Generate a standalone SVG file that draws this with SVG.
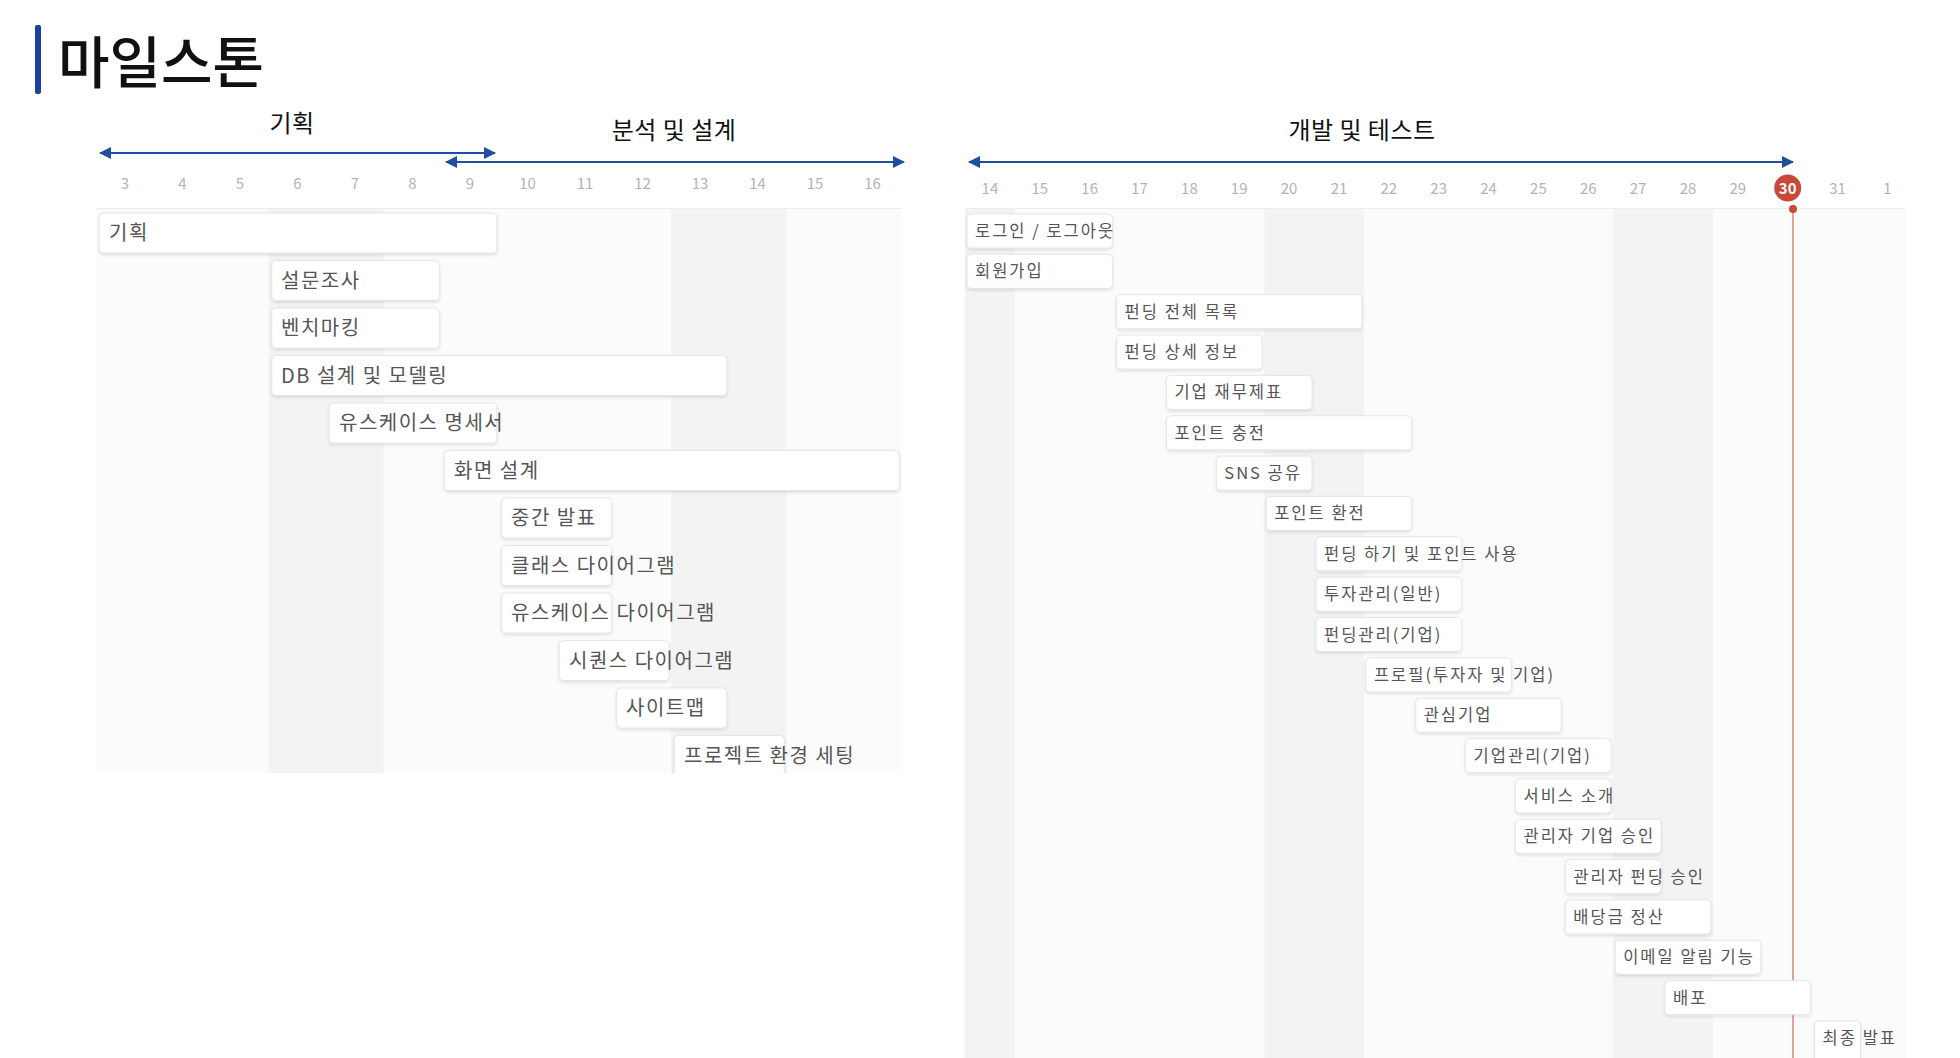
<svg xmlns="http://www.w3.org/2000/svg" width="1960" height="1058" viewBox="0 0 1960 1058">
<defs>
<style>
.title{font-family:"Noto Sans CJK KR","Noto Sans",sans-serif;font-size:56px;font-weight:500;fill:#111}
.phase{font-family:"Noto Sans CJK KR","Noto Sans",sans-serif;font-size:24px;letter-spacing:0.5px;fill:#111;text-anchor:middle}
.tick{font-family:"Noto Sans CJK KR","Noto Sans",sans-serif;font-size:15px;fill:#b3b3b3;text-anchor:middle}
.bg{fill:#fbfbfb}
.we{fill:#f3f3f3}
.bar{fill:#ffffff;stroke:#e6e6e6;stroke-width:1;filter:url(#sh)}
.lt{font-family:"Noto Sans CJK KR","Noto Sans",sans-serif;font-size:20px;letter-spacing:1.5px;fill:#555}
.rt{font-family:"Noto Sans CJK KR","Noto Sans",sans-serif;font-size:16.5px;letter-spacing:2px;fill:#555}
.arrow{stroke:#1f4e9f;stroke-width:2.2;fill:none;marker-start:url(#ah);marker-end:url(#ah)}
</style>
<marker id="ah" viewBox="0 0 12 12" refX="11" refY="6" markerWidth="12" markerHeight="12" markerUnits="userSpaceOnUse" orient="auto-start-reverse">
<path d="M0,0 L12,6 L0,12 z" fill="#1f4e9f"/>
</marker>
<filter id="sh" x="-10%" y="-20%" width="120%" height="150%">
<feDropShadow dx="0" dy="1.5" stdDeviation="1.5" flood-color="#000" flood-opacity="0.12"/>
</filter>
<clipPath id="clipL"><rect x="90" y="205" width="820" height="568"/></clipPath>
</defs>

<rect width="1960" height="1058" fill="#ffffff"/>

<g id="title">
<rect x="35" y="25" width="6" height="69" rx="2" fill="#1b3f9c"/>
<text class="title" x="58" y="83">마일스톤</text>
</g>

<g id="phase-labels">
<text class="phase" x="292" y="132">기획</text>
<text class="phase" x="674" y="139">분석 및 설계</text>
<text class="phase" x="1362" y="139">개발 및 테스트</text>
</g>

<g id="connectors">
<line class="arrow" x1="100" y1="153" x2="495" y2="153"/>
<line class="arrow" x1="446" y1="162" x2="904" y2="162"/>
<line class="arrow" x1="969" y1="162" x2="1793" y2="162"/>
</g>

<g id="left-chart">
<rect class="bg" x="96.25" y="209" width="805" height="564"/>
<rect class="we" x="268.75" y="209" width="115" height="564"/>
<rect class="we" x="671.25" y="209" width="115" height="564"/>
<line x1="96.25" y1="208.5" x2="901.25" y2="208.5" stroke="#ececec" stroke-width="1"/>
<g id="left-ticks">
<text class="tick" x="125" y="189">3</text>
<text class="tick" x="182.5" y="189">4</text>
<text class="tick" x="240" y="189">5</text>
<text class="tick" x="297.5" y="189">6</text>
<text class="tick" x="355" y="189">7</text>
<text class="tick" x="412.5" y="189">8</text>
<text class="tick" x="470" y="189">9</text>
<text class="tick" x="527.5" y="189">10</text>
<text class="tick" x="585" y="189">11</text>
<text class="tick" x="642.5" y="189">12</text>
<text class="tick" x="700" y="189">13</text>
<text class="tick" x="757.5" y="189">14</text>
<text class="tick" x="815" y="189">15</text>
<text class="tick" x="872.5" y="189">16</text>
</g>
<g clip-path="url(#clipL)">
<g id="task-l01"><rect class="bar" x="99.25" y="213" width="397.5" height="40" rx="4"/><text class="lt" x="109" y="240">기획</text></g>
<g id="task-l02"><rect class="bar" x="271.75" y="260.5" width="167.5" height="40" rx="4"/><text class="lt" x="281" y="287.5">설문조사</text></g>
<g id="task-l03"><rect class="bar" x="271.75" y="308" width="167.5" height="40" rx="4"/><text class="lt" x="281" y="335">벤치마킹</text></g>
<g id="task-l04"><rect class="bar" x="271.75" y="355.5" width="455" height="40" rx="4"/><text class="lt" x="281" y="382.5">DB 설계 및 모델링</text></g>
<g id="task-l05"><rect class="bar" x="329.25" y="403" width="167.5" height="40" rx="4"/><text class="lt" x="339" y="430">유스케이스 명세서</text></g>
<g id="task-l06"><rect class="bar" x="444.25" y="450.5" width="455" height="40" rx="4"/><text class="lt" x="454" y="477.5">화면 설계</text></g>
<g id="task-l07"><rect class="bar" x="501.75" y="498" width="110" height="40" rx="4"/><text class="lt" x="511" y="525">중간 발표</text></g>
<g id="task-l08"><rect class="bar" x="501.75" y="545.5" width="110" height="40" rx="4"/><text class="lt" x="511" y="572.5">클래스 다이어그램</text></g>
<g id="task-l09"><rect class="bar" x="501.75" y="593" width="110" height="40" rx="4"/><text class="lt" x="511" y="620">유스케이스 다이어그램</text></g>
<g id="task-l10"><rect class="bar" x="559.25" y="640.5" width="110" height="40" rx="4"/><text class="lt" x="569" y="667.5">시퀀스 다이어그램</text></g>
<g id="task-l11"><rect class="bar" x="616.75" y="688" width="110" height="40" rx="4"/><text class="lt" x="626" y="715">사이트맵</text></g>
<g id="task-l12"><rect class="bar" x="674.25" y="735.5" width="110" height="48" rx="4"/><text class="lt" x="684" y="762.5">프로젝트 환경 세팅</text></g>
</g>
</g>

<g id="right-chart">
<rect class="bg" x="965" y="209" width="941" height="849"/>
<rect class="we" x="965" y="209" width="49.86" height="849"/>
<rect class="we" x="1264.16" y="209" width="99.72" height="849"/>
<rect class="we" x="1613.18" y="209" width="99.72" height="849"/>
<line x1="965" y1="208.5" x2="1906" y2="208.5" stroke="#ececec" stroke-width="1"/>
<g id="right-ticks">
<text class="tick" x="989.9" y="194">14</text>
<text class="tick" x="1039.8" y="194">15</text>
<text class="tick" x="1089.7" y="194">16</text>
<text class="tick" x="1139.5" y="194">17</text>
<text class="tick" x="1189.4" y="194">18</text>
<text class="tick" x="1239.2" y="194">19</text>
<text class="tick" x="1289.1" y="194">20</text>
<text class="tick" x="1339" y="194">21</text>
<text class="tick" x="1388.8" y="194">22</text>
<text class="tick" x="1438.7" y="194">23</text>
<text class="tick" x="1488.5" y="194">24</text>
<text class="tick" x="1538.4" y="194">25</text>
<text class="tick" x="1588.3" y="194">26</text>
<text class="tick" x="1638.1" y="194">27</text>
<text class="tick" x="1688" y="194">28</text>
<text class="tick" x="1737.8" y="194">29</text>
<text class="tick" x="1837.6" y="194">31</text>
<text class="tick" x="1887.4" y="194">1</text>
</g>
<g id="today-marker">
<line x1="1793" y1="209" x2="1793" y2="1058" stroke="#e2a39c" stroke-width="2"/>
<circle cx="1793" cy="209" r="4" fill="#c9483a"/>
<circle cx="1787.7" cy="188" r="13.5" fill="#c9483a"/>
<text x="1787.7" y="194" font-family="Noto Sans CJK KR, Noto Sans, sans-serif" font-size="15" font-weight="700" fill="#ffffff" text-anchor="middle">30</text>
</g>
<g id="task-r01"><rect class="bar" x="967" y="214" width="145.58" height="34" rx="4"/><text class="rt" x="975" y="237">로그인 / 로그아웃</text></g>
<g id="task-r02"><rect class="bar" x="967" y="254.35" width="145.58" height="34" rx="4"/><text class="rt" x="975" y="277.35">회원가입</text></g>
<g id="task-r03"><rect class="bar" x="1116.58" y="294.7" width="245.3" height="34" rx="4"/><text class="rt" x="1124.6" y="317.7">펀딩 전체 목록</text></g>
<g id="task-r04"><rect class="bar" x="1116.58" y="335.05" width="145.58" height="34" rx="4"/><text class="rt" x="1124.6" y="358.05">펀딩 상세 정보</text></g>
<g id="task-r05"><rect class="bar" x="1166.44" y="375.4" width="145.58" height="34" rx="4"/><text class="rt" x="1174.4" y="398.4">기업 재무제표</text></g>
<g id="task-r06"><rect class="bar" x="1166.44" y="415.75" width="245.3" height="34" rx="4"/><text class="rt" x="1174.4" y="438.75">포인트 충전</text></g>
<g id="task-r07"><rect class="bar" x="1216.3" y="456.1" width="95.72" height="34" rx="4"/><text class="rt" x="1224.3" y="479.1">SNS 공유</text></g>
<g id="task-r08"><rect class="bar" x="1266.16" y="496.45" width="145.58" height="34" rx="4"/><text class="rt" x="1274.2" y="519.45">포인트 환전</text></g>
<g id="task-r09"><rect class="bar" x="1316.02" y="536.8" width="145.58" height="34" rx="4"/><text class="rt" x="1324" y="559.8">펀딩 하기 및 포인트 사용</text></g>
<g id="task-r10"><rect class="bar" x="1316.02" y="577.15" width="145.58" height="34" rx="4"/><text class="rt" x="1324" y="600.15">투자관리(일반)</text></g>
<g id="task-r11"><rect class="bar" x="1316.02" y="617.5" width="145.58" height="34" rx="4"/><text class="rt" x="1324" y="640.5">펀딩관리(기업)</text></g>
<g id="task-r12"><rect class="bar" x="1365.88" y="657.85" width="145.58" height="34" rx="4"/><text class="rt" x="1373.9" y="680.85">프로필(투자자 및 기업)</text></g>
<g id="task-r13"><rect class="bar" x="1415.74" y="698.2" width="145.58" height="34" rx="4"/><text class="rt" x="1423.7" y="721.2">관심기업</text></g>
<g id="task-r14"><rect class="bar" x="1465.6" y="738.55" width="145.58" height="34" rx="4"/><text class="rt" x="1473.6" y="761.55">기업관리(기업)</text></g>
<g id="task-r15"><rect class="bar" x="1515.46" y="778.9" width="95.72" height="34" rx="4"/><text class="rt" x="1523.5" y="801.9">서비스 소개</text></g>
<g id="task-r16"><rect class="bar" x="1515.46" y="819.25" width="145.58" height="34" rx="4"/><text class="rt" x="1523.5" y="842.25">관리자 기업 승인</text></g>
<g id="task-r17"><rect class="bar" x="1565.32" y="859.6" width="95.72" height="34" rx="4"/><text class="rt" x="1573.3" y="882.6">관리자 펀딩 승인</text></g>
<g id="task-r18"><rect class="bar" x="1565.32" y="899.95" width="145.58" height="34" rx="4"/><text class="rt" x="1573.3" y="922.95">배당금 정산</text></g>
<g id="task-r19"><rect class="bar" x="1615.18" y="940.3" width="145.58" height="34" rx="4"/><text class="rt" x="1623.2" y="963.3">이메일 알림 기능</text></g>
<g id="task-r20"><rect class="bar" x="1665.04" y="980.65" width="145.58" height="34" rx="4"/><text class="rt" x="1673" y="1003.65">배포</text></g>
<g id="task-r21"><rect class="bar" x="1814.62" y="1021" width="45.86" height="45" rx="4"/><text class="rt" x="1822.6" y="1044">최종 발표</text></g>
</g>
</svg>
